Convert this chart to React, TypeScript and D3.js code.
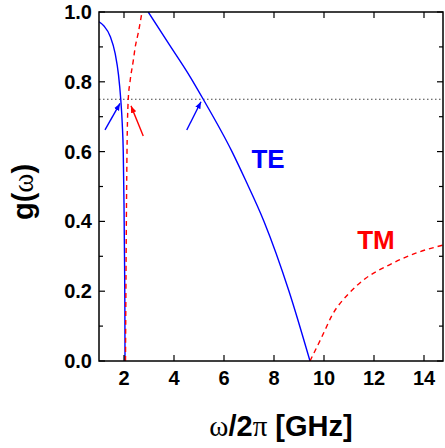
import * as d3 from 'd3'

// TE branch below the lower cutoff
const teLowX = [1.0, 1.2, 1.45, 1.65, 1.78, 1.87, 1.93, 1.97, 2.0, 2.02, 2.035, 2.04]
const teLowG = [0.972, 0.96, 0.93, 0.88, 0.82, 0.75, 0.68, 0.6, 0.45, 0.3, 0.15, 0]
// TE branch between cutoffs
const teHighX = [2.97, 3.8, 4.64, 5.17, 6.32, 6.85, 7.6, 8.6, 9.44]
const teHighG = [1.0, 0.908, 0.815, 0.75, 0.6, 0.52, 0.4, 0.2, 0]
// TM branches
const tmLowX = [2.06, 2.08, 2.1, 2.12, 2.17, 2.24, 2.37, 2.45, 2.57, 2.72]
const tmLowG = [0, 0.25, 0.45, 0.6, 0.75, 0.8, 0.86, 0.9, 0.94, 1.0]
const tmHighX = [9.44, 9.92, 10.33, 11.0, 11.67, 12.6, 13.67, 14.76]
const tmHighG = [0, 0.07, 0.132, 0.194, 0.237, 0.275, 0.309, 0.332]

const threshold = 0.75
// arrows: [x0, g0, x1, g1, colour]
const arrows: [number, number, number, number, string][] = [
  [1.24, 0.662, 1.84, 0.738, '#0000ff'],
  [2.77, 0.645, 2.28, 0.731, '#ff0000'],
  [4.51, 0.662, 5.08, 0.743, '#0000ff'],
]

const xTicks = [2, 4, 6, 8, 10, 12, 14]
const yTicks = [0, 0.2, 0.4, 0.6, 0.8, 1.0]
const yMinor = [0.1, 0.3, 0.5, 0.7, 0.9]

const W = 445
const H = 448
const M = { left: 99, right: 443, top: 12, bottom: 361 }
const FONT = "'Liberation Sans', Arial, sans-serif"
const SERIF = "'Liberation Serif', 'Times New Roman', serif"

export default function App() {
  const x = d3.scaleLinear().domain([1, 14.76]).range([M.left, M.right])
  const y = d3.scaleLinear().domain([0, 1]).range([M.bottom, M.top])

  const line = d3
    .line<[number, number]>()
    .x((d) => x(d[0]))
    .y((d) => y(d[1]))
    .curve(d3.curveMonotoneX)

  const pts = (xs: number[], gs: number[]) => xs.map((v, i) => [v, gs[i]] as [number, number])

  return (
    <svg width={W} height={H} style={{ position: 'absolute', left: 0, top: 0, background: '#fff' }}>
      <defs>
        <marker id="ah-b" viewBox="0 0 10 10" refX="10" refY="5" markerWidth="7" markerHeight="7" orient="auto" markerUnits="userSpaceOnUse">
          <path d="M0,1 L10,5 L0,9 Z" fill="#0000ff" />
        </marker>
        <marker id="ah-r" viewBox="0 0 10 10" refX="10" refY="5" markerWidth="7" markerHeight="7" orient="auto" markerUnits="userSpaceOnUse">
          <path d="M0,1 L10,5 L0,9 Z" fill="#ff0000" />
        </marker>
        <clipPath id="plot">
          <rect x={M.left} y={M.top} width={M.right - M.left} height={M.bottom - M.top} />
        </clipPath>
      </defs>

      {/* threshold line */}
      <line x1={M.left} x2={M.right} y1={y(threshold)} y2={y(threshold)} stroke="#444" strokeWidth={1} strokeDasharray="1.5,2.5" />

      <g clipPath="url(#plot)" fill="none" strokeWidth={1.4}>
        <path d={line(pts(teLowX, teLowG)) || ''} stroke="#0000ff" />
        <path d={line(pts(teHighX, teHighG)) || ''} stroke="#0000ff" />
        <path d={line(pts(tmLowX, tmLowG)) || ''} stroke="#ff0000" strokeDasharray="5,4" />
        <path d={line(pts(tmHighX, tmHighG)) || ''} stroke="#ff0000" strokeDasharray="5,4" />
      </g>

      {arrows.map((a, i) => (
        <line key={i} x1={x(a[0])} y1={y(a[1])} x2={x(a[2])} y2={y(a[3])} stroke={a[4]} strokeWidth={1.4}
          markerEnd={a[4] === '#ff0000' ? 'url(#ah-r)' : 'url(#ah-b)'} />
      ))}

      {/* frame */}
      <rect x={M.left} y={M.top} width={M.right - M.left} height={M.bottom - M.top} fill="none" stroke="#000" strokeWidth={1.5} />

      {xTicks.map((t) => (
        <g key={'x' + t}>
          <line x1={x(t)} x2={x(t)} y1={M.bottom} y2={M.bottom - 6} stroke="#000" strokeWidth={1.2} />
          <line x1={x(t)} x2={x(t)} y1={M.top} y2={M.top + 6} stroke="#000" strokeWidth={1.2} />
          <text x={x(t)} y={385} textAnchor="middle" fontFamily={FONT} fontWeight="bold" fontSize={20}>{t}</text>
        </g>
      ))}
      {yTicks.map((t) => (
        <g key={'y' + t}>
          <line x1={M.left} x2={M.left + 6} y1={y(t)} y2={y(t)} stroke="#000" strokeWidth={1.2} />
          <line x1={M.right} x2={M.right - 6} y1={y(t)} y2={y(t)} stroke="#000" strokeWidth={1.2} />
          <text x={92} y={y(t) + 7} textAnchor="end" fontFamily={FONT} fontWeight="bold" fontSize={20}>{t.toFixed(1)}</text>
        </g>
      ))}
      {yMinor.map((t) => (
        <g key={'m' + t}>
          <line x1={M.left} x2={M.left + 4} y1={y(t)} y2={y(t)} stroke="#000" strokeWidth={1.2} />
          <line x1={M.right} x2={M.right - 4} y1={y(t)} y2={y(t)} stroke="#000" strokeWidth={1.2} />
        </g>
      ))}

      <text x={268} y={168} textAnchor="middle" fontFamily={FONT} fontWeight="bold" fontSize={26} fill="#0000ff">TE</text>
      <text x={376} y={249} textAnchor="middle" fontFamily={FONT} fontWeight="bold" fontSize={26} fill="#ff0000">TM</text>

      <text x={281} y={436} textAnchor="middle" fontFamily={FONT} fontWeight="bold" fontSize={29}>
        <tspan fontFamily={SERIF} fontWeight="normal">ω</tspan>/2<tspan fontFamily={SERIF} fontWeight="normal">π</tspan> [GHz]
      </text>
      <text transform="translate(33,192) rotate(-90)" textAnchor="middle" fontFamily={FONT} fontWeight="bold" fontSize={29}>
        g(<tspan fontFamily={SERIF} fontWeight="normal">ω</tspan>)
      </text>
    </svg>
  )
}
